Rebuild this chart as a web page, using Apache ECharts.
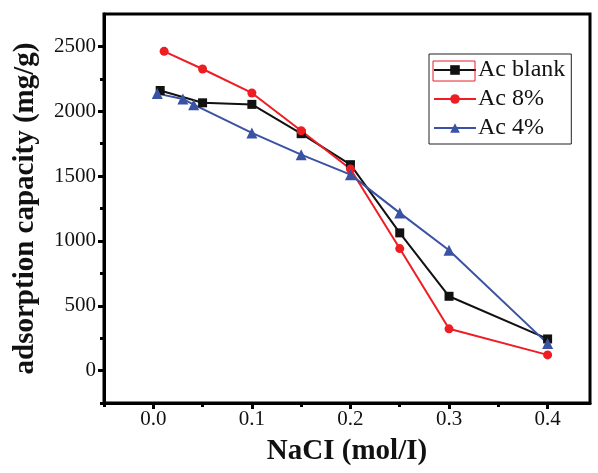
<!DOCTYPE html>
<html>
<head>
<meta charset="utf-8">
<script src="https://cdn.jsdelivr.net/npm/echarts@6/dist/echarts.min.js"></script>
<style>
  html, body { margin: 0; padding: 0; background: #fff; }
  #chart { width: 598px; height: 473px; }
</style>
</head>
<body>
<div id="chart"></div>
<script>
// NaCl concentration (mol/l) and adsorption capacity (mg/g)
var blankX = [0.007, 0.05, 0.1, 0.15, 0.2, 0.25, 0.3, 0.4];
var blankY = [2160, 2065, 2053, 1827, 1588, 1062, 573, 244];

var ac8X = [0.011, 0.05, 0.1, 0.15, 0.2, 0.25, 0.3, 0.4];
var ac8Y = [2462, 2326, 2141, 1850, 1555, 941, 322, 121];

var ac4X = [0.004, 0.03, 0.041, 0.1, 0.15, 0.2, 0.25, 0.3, 0.4];
var ac4Y = [2136, 2095, 2051, 1833, 1665, 1511, 1216, 928, 208];

var xMajor = [0, 0.1, 0.2, 0.3, 0.4];
var xMinor = [-0.05, 0.05, 0.15, 0.25, 0.35];
var yMajor = [0, 500, 1000, 1500, 2000, 2500];
var yMinor = [-250, 250, 750, 1250, 1750, 2250];

var font = 'Liberation Serif';

function pairs(xs, ys) {
  return xs.map(function (x, i) { return [x, ys[i]]; });
}

var chart = echarts.init(document.getElementById('chart'));

var axisLine = { show: true, onZero: false, lineStyle: { color: '#000', width: 3 } };

chart.setOption({
  animation: false,
  backgroundColor: '#fff',
  grid: {
    left: 104, right: 8, top: 14, bottom: 70,
    show: true, borderColor: '#000', borderWidth: 3
  },
  legend: {
    data: ['Ac blank', 'Ac 8%', 'Ac 4%'],
    orient: 'vertical',
    left: 429, top: 54,
    itemWidth: 42, itemHeight: 12, itemGap: 5,
    padding: [4, 6, 4, 4],
    borderColor: '#222', borderWidth: 1,
    backgroundColor: '#fff',
    textStyle: { fontFamily: font, fontSize: 24, color: '#111', padding: [0, 0, 0, -3] }
  },
  graphic: [{
    type: 'rect',
    shape: { x: 433, y: 61, width: 42, height: 20 },
    style: { fill: 'none', stroke: '#e8202a', lineWidth: 1 },
    z: 100
  }],
  xAxis: [{
    type: 'value', min: -0.05, max: 0.443,
    name: 'NaCI (mol/I)', nameLocation: 'middle', nameGap: 34,
    nameTextStyle: { fontFamily: font, fontSize: 29, fontWeight: 'bold', color: '#111' },
    axisLine: axisLine,
    axisTick: { show: true, customValues: xMajor, length: 6, lineStyle: { width: 3, color: '#000' } },
    axisLabel: {
      customValues: xMajor, fontFamily: font, fontSize: 21, color: '#111', margin: 6,
      formatter: function (v) { return v.toFixed(1); }
    },
    splitLine: { show: false }
  }, {
    type: 'value', min: -0.05, max: 0.443, position: 'bottom',
    axisLine: { show: false, onZero: false },
    axisTick: { show: true, customValues: xMinor, length: 4, lineStyle: { width: 3, color: '#000' } },
    axisLabel: { show: false },
    splitLine: { show: false }
  }],
  yAxis: [{
    type: 'value', min: -250, max: 2750,
    name: 'adsorption capacity (mg/g)', nameLocation: 'middle', nameGap: 64,
    nameTextStyle: { fontFamily: font, fontSize: 29, fontWeight: 'bold', color: '#111' },
    axisLine: axisLine,
    axisTick: { show: true, customValues: yMajor, length: 6, lineStyle: { width: 3, color: '#000' } },
    axisLabel: {
      customValues: yMajor, fontFamily: font, fontSize: 21, color: '#111', margin: 8,
      formatter: function (v) { return String(v); }
    },
    splitLine: { show: false }
  }, {
    type: 'value', min: -250, max: 2750, position: 'left',
    axisLine: { show: false, onZero: false },
    axisTick: { show: true, customValues: yMinor, length: 4, lineStyle: { width: 3, color: '#000' } },
    axisLabel: { show: false },
    splitLine: { show: false }
  }],
  series: [{
    name: 'Ac blank', type: 'line', data: pairs(blankX, blankY),
    symbol: 'rect', symbolSize: 9,
    itemStyle: { color: '#111' }, lineStyle: { color: '#111', width: 2 }
  }, {
    name: 'Ac 8%', type: 'line', data: pairs(ac8X, ac8Y),
    symbol: 'circle', symbolSize: 9,
    itemStyle: { color: '#ee1d24' }, lineStyle: { color: '#ee1d24', width: 2 }
  }, {
    name: 'Ac 4%', type: 'line', data: pairs(ac4X, ac4Y),
    symbol: 'triangle', symbolSize: 11,
    itemStyle: { color: '#3a52a3' }, lineStyle: { color: '#3a52a3', width: 2 }
  }]
});
</script>
</body>
</html>
